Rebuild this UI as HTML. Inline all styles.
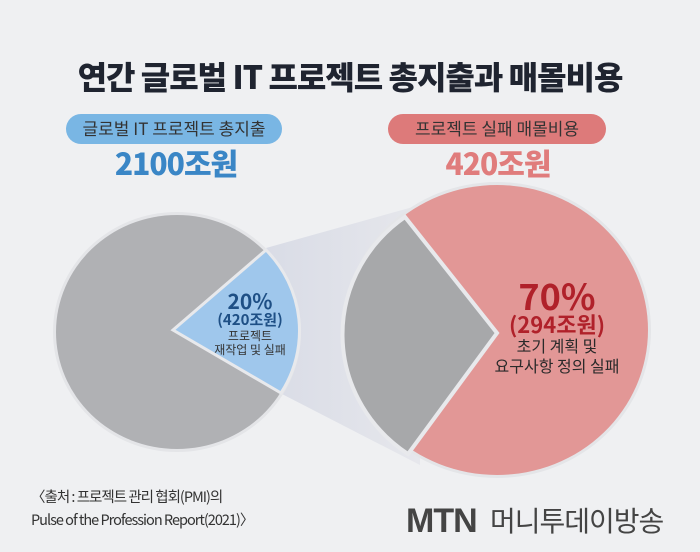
<!DOCTYPE html>
<html><head><meta charset="utf-8"><style>
body{margin:0;width:700px;height:552px;background:#eff0f2;overflow:hidden;font-family:"Liberation Sans","Noto Sans CJK KR",sans-serif;}
svg{position:absolute;left:0;top:0}
</style></head><body>
<svg width="700" height="552" viewBox="0 0 700 552">
<defs>
<linearGradient id="cg" x1="0" x2="1" y1="0" y2="0"><stop offset="0" stop-color="#d9dce6"/><stop offset="1" stop-color="#e6e7ec"/></linearGradient>
</defs>
<text x="350" y="89" text-anchor="middle" font-size="32" font-weight="900" fill="#1f2430" font-family="Noto Sans CJK KR, sans-serif" letter-spacing="-1">연간 글로벌 IT 프로젝트 총지출과 매몰비용</text>
<rect x="66" y="114" width="216" height="30" rx="15" fill="#79b6e4"/>
<text x="174" y="135" text-anchor="middle" font-size="17" fill="#333" font-family="Noto Sans CJK KR, sans-serif">글로벌 IT 프로젝트 총지출</text>
<rect x="388" y="114" width="218" height="30" rx="15" fill="#dd7a7a"/>
<text x="497" y="135" text-anchor="middle" font-size="17" fill="#333" font-family="Noto Sans CJK KR, sans-serif">프로젝트 실패 매몰비용</text>
<text x="176" y="175" text-anchor="middle" font-size="30" font-weight="900" fill="#3a86c6" font-family="Noto Sans CJK KR, sans-serif" letter-spacing="-1">2100조원</text>
<text x="498" y="175" text-anchor="middle" font-size="30" font-weight="900" fill="#e07c7c" font-family="Noto Sans CJK KR, sans-serif" letter-spacing="-1">420조원</text>
<polygon points="266,248 420,205 420,465 282,394" fill="url(#cg)"/>
<ellipse cx="177" cy="332" rx="124" ry="120" fill="#e4e5e8"/>
<ellipse cx="177" cy="332" rx="121" ry="117" fill="#b0b1b4"/>
<path d="M173,330 L266,250 A121,117 0 0 1 281,393 Z" fill="#9fc7ec" stroke="#e8e9ec" stroke-width="3"/>
<ellipse cx="497" cy="330" rx="154" ry="148" fill="#e4e5e8"/>
<ellipse cx="497" cy="330" rx="151" ry="145" fill="#e29796"/>
<path d="M497,333 L405,217 A151,145 0 0 0 408,454 Z" fill="#a7a8aa" stroke="#e8e9ec" stroke-width="4"/>
<g font-family="Noto Sans CJK KR, sans-serif" text-anchor="middle">
<text x="250" y="309" font-size="21" font-weight="bold" fill="#1e4f85">20%</text>
<text x="250" y="325" font-size="15" font-weight="bold" fill="#1e4f85">(420조원)</text>
<text x="250" y="340" font-size="12" fill="#333">프로젝트</text>
<text x="250" y="354" font-size="12" fill="#333">재작업 및 실패</text>
<text x="557" y="310" font-size="36" font-weight="bold" fill="#b0212a">70%</text>
<text x="557" y="333" font-size="22" font-weight="bold" fill="#b0212a">(294조원)</text>
<text x="557" y="352" font-size="16" fill="#2a2a2a">초기 계획 및</text>
<text x="557" y="372" font-size="16" fill="#2a2a2a">요구사항 정의 실패</text>
</g>
<g font-family="Noto Sans CJK KR, sans-serif" font-size="14.5" fill="#333" letter-spacing="-1">
<text x="31" y="502">〈출처 : 프로젝트 관리 협회(PMI)의</text>
<text x="31" y="525">Pulse of the Profession Report(2021)〉</text>
</g>
<text x="406" y="532" font-size="34" font-weight="bold" fill="#444" font-family="Liberation Sans, sans-serif" letter-spacing="-1">MTN</text>
<text x="490" y="531" font-size="28" fill="#444" font-family="Noto Sans CJK KR, sans-serif" letter-spacing="-1">머니투데이방송</text>
</svg>
</body></html>
